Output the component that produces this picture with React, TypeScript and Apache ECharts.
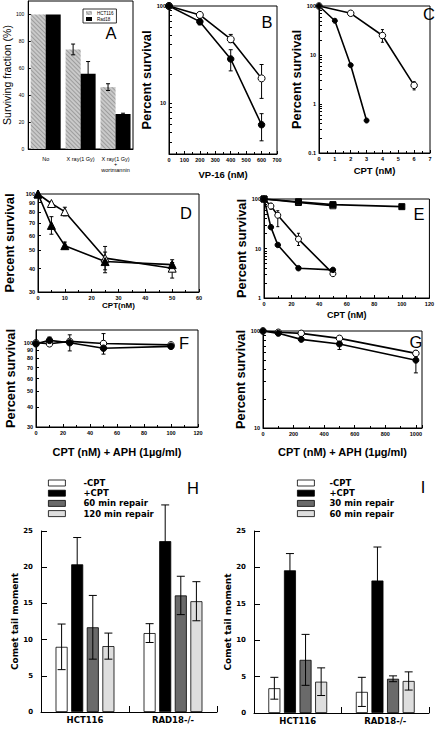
import { useEffect, useRef } from 'react';
import * as echarts from 'echarts';

// ---------- Panel A ----------
const A_CATS = ['No', 'X ray(1 Gy)', 'X ray(1 Gy)\n+\nwortmannin'];
const A_HCT = [100, 74, 46];
const A_HCT_ERR = [0, 4, 2.5];
const A_RAD = [100, 56, 26];
const A_RAD_ERR = [0, 9, 0.6];
const A_TICKS = [0, 20, 40, 60, 80, 100];

// ---------- Panel B (VP-16) ----------
const B_DOSE = [0, 200, 400, 600];
const B_FILLED = [100, 69, 28.5, 6];
const B_FILLED_LO = [null, 64, 21.5, 4.1];
const B_FILLED_HI = [null, 73, 35.5, 7.8];
const B_OPEN = [100, 81, 45.5, 18];
const B_OPEN_LO = [null, null, 42, 11.2];
const B_OPEN_HI = [null, null, 51, 25];

// ---------- Panel C (CPT) ----------
const C_DOSE_FILLED = [0, 1, 2, 3];
const C_FILLED = [100, 50, 6.2, 0.46];
const C_DOSE_OPEN = [0, 2, 4, 6];
const C_OPEN = [100, 71, 25, 2.4];
const C_OPEN_LO = [null, null, 18.2, 1.94];
const C_OPEN_HI = [null, null, 33, 2.85];

// ---------- Panel D ----------
const D_DOSE = [0, 5, 10, 25, 50];
const D_FILLED = [100, 68, 53, 43.6, 42];
const D_FILLED_LO = [null, 61, 51, 38, 39.5];
const D_FILLED_HI = [null, 75.7, 55.4, 49, 44.6];
const D_OPEN = [100, 89, 80.5, 45.5, 40.2];
const D_OPEN_LO = [null, null, 76.4, 39.4, 35.6];
const D_OPEN_HI = [null, null, 85, 52.5, 43.1];

// ---------- Panel E ----------
const E_DOSE_SQ = [0, 25, 50, 100];
const E_SQ_FILLED = [100, 88, 77, 70];
const E_DOSE_SQ_OPEN = [0, 25, 50];
const E_SQ_OPEN = [100, 85, 73];
const E_DOSE_C = [0, 5, 10, 25, 50];
const E_C_FILLED = [100, 27, 11.8, 4, 3.7];
const E_C_OPEN = [100, 72, 47, 15.5, 3.1];
const E_C_OPEN_LO = [null, 62, 27.6, 11.5, null];
const E_C_OPEN_HI = [null, 82, 58, 20.3, null];

// ---------- Panel F ----------
const F_DOSE = [0, 10, 25, 50, 100];
const F_FILLED = [98.5, 103.5, 100, 92.5, 95];
const F_FILLED_LO = [null, 101, 89, 85, null];
const F_FILLED_HI = [null, 108.5, 112, 100, null];
const F_OPEN = [100, 98.5, 102, 99, 97];
const F_OPEN_LO = [null, null, null, 99, null];
const F_OPEN_HI = [null, null, null, 114, null];

// ---------- Panel G ----------
const G_DOSE = [0, 100, 250, 500, 1000];
const G_FILLED = [100, 94.6, 82, 73.5, 50];
const G_FILLED_LO = [null, null, null, 64.5, 37];
const G_FILLED_HI = [null, null, null, 80.7, 56.5];
const G_OPEN = [100, 97, 94.6, 84, 58.8];
const G_OPEN_LO = [null, null, null, null, 55];
const G_OPEN_HI = [null, null, null, null, 63];

// ---------- Panel H ----------
const COMET_GROUPS = ['HCT116', 'RAD18-/-'];
const H_NAMES = ['-CPT', '+CPT', '60 min repair', '120 min repair'];
const H_VALUES = [
  [9, 10.9],
  [20.4, 23.6],
  [11.7, 16.1],
  [9.1, 15.3],
];
const H_ERR = [
  [3.15, 1.3],
  [3.7, 5],
  [4.4, 2.65],
  [1.8, 2.7],
];

// ---------- Panel I ----------
const I_NAMES = ['-CPT', '+CPT', '30 min repair', '60 min repair'];
const I_VALUES = [
  [3.4, 2.9],
  [19.6, 18.2],
  [7.3, 4.7],
  [4.3, 4.4],
];
const I_ERR = [
  [1.5, 2],
  [2.3, 4.6],
  [3.5, 0.4],
  [1.9, 1.25],
];
const COMET_TICKS = [0, 5, 10, 15, 20, 25];

const FONT = 'Liberation Sans';
const DV = 'DejaVu Sans';
const BAR_COLORS = ['#ffffff', '#000000', '#6a6a6a', '#dedede'];

const blackLine = { color: '#000', width: 1 };
const tickLabel = { fontSize: 5.5, fontWeight: 'bold', color: '#000', fontFamily: FONT };

function grid(left: number, top: number, width: number, height: number, frame: boolean) {
  return { left, top, width, height, show: frame, borderColor: '#000', borderWidth: 1, backgroundColor: 'transparent' };
}

function valueX(gi: number, max: number, interval: number, name: string, gap: number, size: number, showMax = true) {
  return {
    type: 'value', gridIndex: gi, min: 0, max, interval,
    axisLine: { show: true, onZero: false, lineStyle: blackLine },
    axisTick: { show: true, inside: true, length: 3, lineStyle: blackLine },
    minorTick: { show: true, splitNumber: 2, length: 2, lineStyle: blackLine },
    axisLabel: { ...tickLabel, margin: 3, showMaxLabel: showMax, formatter: (v: number) => String(v) },
    splitLine: { show: false },
    name, nameLocation: 'middle', nameGap: gap,
    nameTextStyle: { fontSize: size, fontWeight: 'bold', color: '#000', fontFamily: FONT },
  };
}

function logY(gi: number, min: number, max: number, labels: number[], ticks: number[], gap: number) {
  return {
    type: 'log', logBase: 10, gridIndex: gi, min, max,
    axisLine: { show: true, onZero: false, lineStyle: blackLine },
    axisTick: { show: true, inside: true, length: 3, customValues: ticks, lineStyle: blackLine },
    axisLabel: { ...tickLabel, margin: 3, customValues: labels },
    splitLine: { show: false },
    minorTick: { show: false },
    name: 'Percent survival', nameLocation: 'middle', nameGap: gap,
    nameTextStyle: { fontSize: 12.8, fontWeight: 'bold', color: '#000', fontFamily: FONT },
  };
}

function errRender(offset: number, cap: number) {
  return (_params: any, api: any) => {
    const x = api.value(0);
    const p1 = api.coord([x, api.value(1)]);
    const p2 = api.coord([x, api.value(2)]);
    const cx = p1[0] + offset;
    const style = { stroke: '#000', lineWidth: 1 };
    return {
      type: 'group',
      children: [
        { type: 'line', shape: { x1: cx, y1: p1[1], x2: cx, y2: p2[1] }, style },
        { type: 'line', shape: { x1: cx - cap / 2, y1: p1[1], x2: cx + cap / 2, y2: p1[1] }, style },
        { type: 'line', shape: { x1: cx - cap / 2, y1: p2[1], x2: cx + cap / 2, y2: p2[1] }, style },
      ],
    };
  };
}

function errSeries(gi: number, data: number[][], offset: number, cap: number, z = 2) {
  return {
    type: 'custom', xAxisIndex: gi, yAxisIndex: gi, z, silent: true,
    renderItem: errRender(offset, cap), data, encode: { x: 0, y: [1, 2] },
  };
}

function rangeData(dose: number[], lo: (number | null)[], hi: (number | null)[]) {
  const out: number[][] = [];
  dose.forEach((d, i) => {
    if (lo[i] != null && hi[i] != null) out.push([d, lo[i] as number, hi[i] as number]);
  });
  return out;
}

function lineSeries(gi: number, dose: number[], vals: number[], open: boolean, symbol: string, size: number) {
  return {
    type: 'line', xAxisIndex: gi, yAxisIndex: gi, z: 3,
    data: dose.map((d, i) => [d, vals[i]]),
    symbol, symbolSize: size, showSymbol: true,
    lineStyle: { color: '#000', width: 1.6 },
    itemStyle: { color: open ? '#fff' : '#000', borderColor: '#000', borderWidth: 1, opacity: 1 },
  };
}

const decadeTicks = (from: number, to: number) => {
  const out: number[] = [];
  for (let d = from; d < to; d *= 10) for (let k = 1; k < 10; k++) out.push(+(d * k).toPrecision(3));
  out.push(to);
  return out;
};

function buildOption() {
  const grids = [
    grid(26, 1, 107, 148, true),   // A
    grid(169, 6, 108, 148, true),  // B
    grid(319, 6, 111, 147, true),  // C
    grid(38, 194, 161, 98, true),  // D
    grid(264, 199, 169, 99, true), // E
    grid(36, 330, 162, 97, true),  // F
    grid(263, 331, 159, 97, true), // G
    grid(41, 531, 176, 181, false), // H
    grid(254, 531, 175, 182, false), // I
  ];

  const xAxis: any[] = [
    {
      type: 'category', gridIndex: 0, data: A_CATS,
      axisLine: { show: true, lineStyle: blackLine }, axisTick: { show: false },
      axisLabel: { fontSize: 5.5, color: '#000', fontFamily: FONT, margin: 7, lineHeight: 5.5, interval: 0 },
    },
    valueX(1, 700, 100, 'VP-16 (nM)', 15, 9.5),
    valueX(2, 7, 1, 'CPT (nM)', 12, 9.5),
    valueX(3, 60, 10, 'CPT(nM)', 7, 8),
    valueX(4, 120, 20, 'CPT (nM)', 12, 9),
    valueX(5, 120, 20, 'CPT (nM) + APH (1µg/ml)', 19, 11),
    valueX(6, 1040, 200, 'CPT (nM) + APH (1µg/ml)', 18, 11, false),
    {
      type: 'category', gridIndex: 7, data: COMET_GROUPS,
      axisLine: { show: true, lineStyle: blackLine },
      axisTick: { show: true, inside: true, length: 6, lineStyle: blackLine },
      axisLabel: { fontSize: 8.5, fontWeight: 'bold', color: '#000', fontFamily: DV, margin: 3 },
    },
    {
      type: 'category', gridIndex: 8, data: COMET_GROUPS,
      axisLine: { show: true, lineStyle: blackLine },
      axisTick: { show: true, inside: true, length: 6, lineStyle: blackLine },
      axisLabel: { fontSize: 8.5, fontWeight: 'bold', color: '#000', fontFamily: DV, margin: 3 },
    },
  ];

  const cometY = (gi: number) => ({
    type: 'value', gridIndex: gi, min: 0, max: 25, interval: 5,
    axisLine: { show: true, lineStyle: blackLine },
    axisTick: { show: true, inside: true, length: 6, lineStyle: blackLine, customValues: COMET_TICKS },
    axisLabel: { fontSize: 7, fontWeight: 'bold', color: '#000', fontFamily: DV, margin: 8 },
    splitLine: { show: false },
    name: 'Comet tail moment', nameLocation: 'middle', nameGap: 22,
    nameTextStyle: { fontSize: 9, fontWeight: 'bold', color: '#000', fontFamily: DV },
  });

  const yAxis: any[] = [
    {
      type: 'value', gridIndex: 0, min: 0, max: 110, interval: 20,
      axisLine: { show: true, lineStyle: blackLine },
      axisTick: { show: true, inside: true, length: 3, lineStyle: blackLine, customValues: A_TICKS },
      axisLabel: { fontSize: 5, color: '#000', fontFamily: FONT, margin: 4, customValues: A_TICKS },
      splitLine: { show: false },
      name: 'Surviving fraction (%)', nameLocation: 'middle', nameGap: 13,
      nameTextStyle: { fontSize: 10.5, color: '#000', fontFamily: FONT },
    },
    logY(1, 3, 100, [10, 100], [4, 5, 6, 7, 8, 9, 10, 20, 30, 40, 50, 60, 70, 80, 90, 100], 13),
    logY(2, 0.1, 100, [0.1, 1, 10, 100], decadeTicks(0.1, 100), 12),
    logY(3, 30, 100, [30, 40, 50, 60, 70, 80, 90, 100], [30, 40, 50, 60, 70, 80, 90, 100], 22),
    logY(4, 1, 100, [1, 10, 100], decadeTicks(1, 100), 14),
    logY(5, 30, 120, [30, 40, 50, 60, 70, 80, 90, 100], [30, 40, 50, 60, 70, 80, 90, 100], 19),
    logY(6, 10, 100, [10, 100], decadeTicks(10, 100), 15),
    cometY(7),
    cometY(8),
  ];

  const series: any[] = [];

  // Panel A bars
  series.push({
    name: 'HCT116', type: 'bar', xAxisIndex: 0, yAxisIndex: 0, data: A_HCT, barWidth: 15, barGap: '0%', z: 2,
    itemStyle: {
      color: '#c9c9c9',
      decal: { symbol: 'rect', symbolSize: 1, dashArrayX: [1, 0], dashArrayY: [1, 2], rotation: Math.PI / 4, color: 'rgba(0,0,0,0.22)' },
    },
  });
  series.push({
    name: 'Rad18', type: 'bar', xAxisIndex: 0, yAxisIndex: 0, data: A_RAD, barWidth: 15, barGap: '0%', z: 2,
    itemStyle: { color: '#000' },
  });
  series.push(errSeries(0, A_HCT.map((v, i) => [i, v - A_HCT_ERR[i], v + A_HCT_ERR[i]]).filter((_, i) => A_HCT_ERR[i] > 0), -7.5, 4, 3));
  series.push(errSeries(0, A_RAD.map((v, i) => [i, v - A_RAD_ERR[i], v + A_RAD_ERR[i]]).filter((_, i) => A_RAD_ERR[i] > 0), 7.5, 4, 3));

  // Panel B
  series.push(errSeries(1, rangeData(B_DOSE, B_FILLED_LO, B_FILLED_HI), 0, 4));
  series.push(errSeries(1, rangeData(B_DOSE, B_OPEN_LO, B_OPEN_HI), 0, 4));
  series.push(lineSeries(1, B_DOSE, B_OPEN, true, 'circle', 7));
  series.push(lineSeries(1, B_DOSE, B_FILLED, false, 'circle', 6.5));

  // Panel C
  series.push(errSeries(2, rangeData(C_DOSE_OPEN, C_OPEN_LO, C_OPEN_HI), 0, 3));
  series.push(lineSeries(2, C_DOSE_OPEN, C_OPEN, true, 'circle', 6.5));
  series.push(lineSeries(2, C_DOSE_FILLED, C_FILLED, false, 'circle', 5));

  // Panel D
  series.push(errSeries(3, rangeData(D_DOSE, D_FILLED_LO, D_FILLED_HI), 0, 4));
  series.push(errSeries(3, rangeData(D_DOSE, D_OPEN_LO, D_OPEN_HI), 0, 4));
  series.push(lineSeries(3, D_DOSE, D_OPEN, true, 'triangle', 8));
  series.push(lineSeries(3, D_DOSE, D_FILLED, false, 'triangle', 8));

  // Panel E
  series.push(errSeries(4, rangeData(E_DOSE_C, E_C_OPEN_LO, E_C_OPEN_HI), 0, 3));
  series.push(lineSeries(4, E_DOSE_SQ_OPEN, E_SQ_OPEN, true, 'rect', 6));
  series.push(lineSeries(4, E_DOSE_SQ, E_SQ_FILLED, false, 'rect', 6));
  series.push(lineSeries(4, E_DOSE_C, E_C_OPEN, true, 'circle', 6));
  series.push(lineSeries(4, E_DOSE_C, E_C_FILLED, false, 'circle', 5.5));

  // Panel F
  series.push(errSeries(5, rangeData(F_DOSE, F_FILLED_LO, F_FILLED_HI), 0, 4));
  series.push(errSeries(5, rangeData(F_DOSE, F_OPEN_LO, F_OPEN_HI), 0, 4));
  series.push(lineSeries(5, F_DOSE, F_OPEN, true, 'circle', 6.5));
  series.push(lineSeries(5, F_DOSE, F_FILLED, false, 'circle', 6.5));

  // Panel G
  series.push(errSeries(6, rangeData(G_DOSE, G_FILLED_LO, G_FILLED_HI), 0, 4));
  series.push(errSeries(6, rangeData(G_DOSE, G_OPEN_LO, G_OPEN_HI), 0, 4));
  series.push(lineSeries(6, G_DOSE, G_OPEN, true, 'circle', 6.5));
  series.push(lineSeries(6, G_DOSE, G_FILLED, false, 'circle', 6));

  // Panels H & I
  const BAR_W = 12;
  const GAP = 0.3;
  const addComet = (gi: number, names: string[], values: number[][], errs: number[][]) => {
    names.forEach((name, k) => {
      series.push({
        name, type: 'bar', xAxisIndex: gi, yAxisIndex: gi, data: values[k], barWidth: BAR_W, barGap: GAP * 100 + '%', z: 2,
        itemStyle: { color: BAR_COLORS[k], borderColor: '#000', borderWidth: 0.8 },
      });
    });
    names.forEach((_, k) => {
      const off = (k - (names.length - 1) / 2) * BAR_W * (1 + GAP);
      series.push(errSeries(gi, values[k].map((v, i) => [i, v - errs[k][i], v + errs[k][i]]), off, 8, 4));
    });
  };
  addComet(7, H_NAMES, H_VALUES, H_ERR);
  addComet(8, I_NAMES, I_VALUES, I_ERR);

  const cometLegendText = { fontSize: 8.5, fontWeight: 'bold', color: '#000', fontFamily: DV, lineHeight: 10 };
  const legend: any[] = [
    {
      data: ['HCT116', 'Rad18'], orient: 'vertical', left: 83, top: 9, itemWidth: 6, itemHeight: 4, itemGap: 1,
      borderColor: '#000', borderWidth: 0.8, padding: [1.5, 3, 1.5, 3], selectedMode: false, icon: 'rect',
      textStyle: { fontSize: 4.5, color: '#000', fontFamily: FONT, lineHeight: 5 },
    },
    {
      data: H_NAMES.map((n, k) => ({ name: n, itemStyle: { color: BAR_COLORS[k], borderColor: '#000', borderWidth: 0.8 } })),
      orient: 'vertical', left: 48, top: 478, itemWidth: 17, itemHeight: 6, itemGap: 0.2, padding: 0,
      selectedMode: false, icon: 'rect', textStyle: { ...cometLegendText, padding: [0, 0, 0, 13] },
    },
    {
      data: I_NAMES.map((n, k) => ({ name: n, itemStyle: { color: BAR_COLORS[k], borderColor: '#000', borderWidth: 0.8 } })),
      orient: 'vertical', left: 297, top: 478, itemWidth: 17, itemHeight: 6, itemGap: 0.2, padding: 0,
      selectedMode: false, icon: 'rect', textStyle: { ...cometLegendText, padding: [0, 0, 0, 10] },
    },
  ];

  const letter = (text: string, x: number, y: number, size = 16.5) => ({
    type: 'text', x, y, silent: true,
    style: {
      text, fontSize: size, fontFamily: FONT, fill: '#000',
      align: 'center', verticalAlign: 'middle', textAlign: 'center', textVerticalAlign: 'middle',
    },
  });

  return {
    animation: false,
    backgroundColor: '#fff',
    textStyle: { fontFamily: FONT },
    grid: grids,
    xAxis,
    yAxis,
    legend,
    series,
    graphic: [
      letter('A', 111, 32.5),
      letter('B', 267, 21.5),
      letter('C', 429, 14),
      letter('D', 186, 213),
      letter('E', 419, 214),
      letter('F', 184, 342.5),
      letter('G', 416, 341.5),
      letter('H', 193, 487.5),
      letter('I', 423, 487),
    ],
  };
}

export default function App() {
  const ref = useRef<HTMLDivElement>(null);
  useEffect(() => {
    if (!ref.current) return;
    const chart = echarts.init(ref.current, null, { renderer: 'svg' });
    chart.setOption(buildOption() as any);
    return () => chart.dispose();
  }, []);
  return (
    <div
      ref={ref}
      style={{ position: 'absolute', left: 0, top: 0, width: 437, height: 730, background: '#fff' }}
    />
  );
}
